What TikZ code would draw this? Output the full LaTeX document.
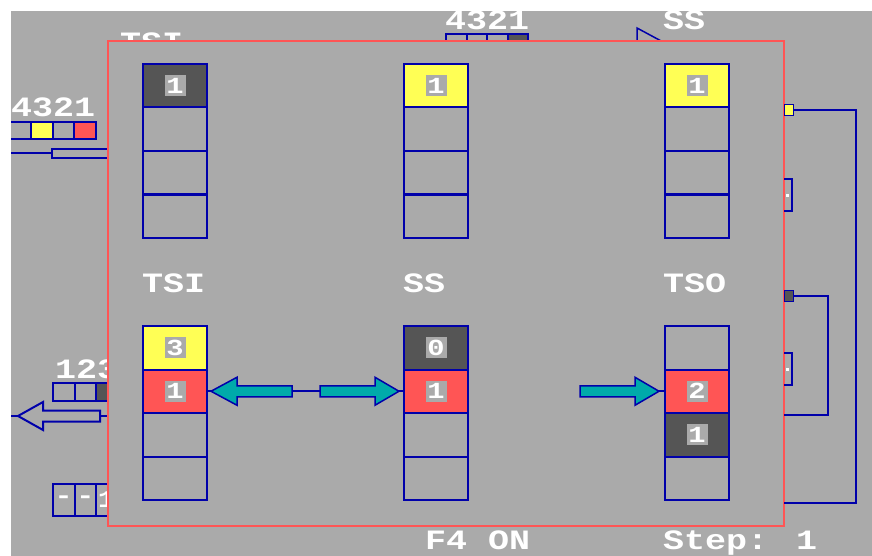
\documentclass[tikz,border=0pt]{standalone}
\usepackage{fontspec}
\newfontfamily\dosfont{Liberation Mono}[FakeStretch=1.25]
\usetikzlibrary{positioning}

\definecolor{dosgray}{HTML}{AAAAAA}
\definecolor{dosdark}{HTML}{555555}
\definecolor{dosblue}{HTML}{0000AA}
\definecolor{dosred}{HTML}{FF5555}
\definecolor{dosyellow}{HTML}{FFFF55}
\definecolor{doscyan}{HTML}{00AAAA}

\begin{document}
\begin{tikzpicture}[x=1pt,y=-1pt,
  slot/.style={draw=dosblue,line width=2pt,minimum width=64pt,minimum height=43.5pt,inner sep=0pt,outer sep=0pt},
  qslot/.style={draw=dosblue,line width=2pt,minimum width=21.5pt,minimum height=18pt,inner sep=0pt,outer sep=0pt,text=white,font=\dosfont\bfseries\fontsize{24}{24}\selectfont},
  num/.style={fill=dosgray,text=white,font=\dosfont\bfseries\fontsize{23}{23}\selectfont,minimum size=21pt,inner sep=0pt},
  scrtext/.style={text=white,font=\dosfont\bfseries\fontsize{28}{28}\selectfont,inner sep=0pt,anchor=base west},
  wire/.style={draw=dosblue,line width=2pt},
  fatarrow/.style={draw=dosblue,line width=1.5pt,fill=doscyan},
  plug/.style={draw=dosblue,line width=1.5pt,minimum width=9pt,minimum height=11pt,inner sep=0pt,outer sep=0pt}
]
\useasboundingbox (0,0) rectangle (872,556);
\fill[white] (0,0) rectangle (872,556);
\fill[dosgray] (11,11) rectangle (872,556);
\begin{scope}
\clip (11,11) rectangle (872,556);

% screen parts behind the window
\node[scrtext] (tsiTop) at (120,52) {TSI};
\node[scrtext] (queueTop) at (445,30) {4321};
\node[scrtext] (ssTop) at (663,30) {SS};
\node[qslot,minimum width=20.5pt,anchor=north west] (t1) at (446,34) {};
\node[qslot,minimum width=20.5pt,right=0pt of t1] (t2) {};
\node[qslot,minimum width=20.5pt,right=0pt of t2] (t3) {};
\node[qslot,minimum width=20.5pt,fill=dosdark,right=0pt of t3] (t4) {};
\draw[wire,line width=1.5pt] (637,56) -- (637,28) -- (663,42) -- cycle;

\node[scrtext] (queueIn) at (11,117) {4321};
\node[qslot,minimum height=17pt,anchor=north west] (i1) at (9.5,122) {};
\node[qslot,minimum height=17pt,fill=dosyellow,right=0pt of i1] (i2) {};
\node[qslot,minimum height=17pt,right=0pt of i2] (i3) {};
\node[qslot,minimum height=17pt,fill=dosred,right=0pt of i3] (i4) {};
\draw[wire] (11,153.5) -- (52,153.5);
\draw[wire] (120,149) -- (52,149) -- (52,158) -- (120,158);

\node[scrtext] (queueOut) at (55,378) {123};
\node[qslot,anchor=north west] (o1) at (53,383) {};
\node[qslot,right=0pt of o1] (o2) {};
\node[qslot,fill=dosdark,right=0pt of o2] (o3) {};
\draw[wire] (11,416) -- (18,416);
\draw[wire] (18,416) -- (43,402) -- (43,410.5) -- (100,410.5) -- (100,421.5) -- (43,421.5) -- (43,430) -- cycle;
\draw[wire] (100,416) -- (112,416);

\node[qslot,minimum height=32pt,anchor=north west] (d1) at (53,484) {-};
\node[qslot,minimum height=32pt,right=0pt of d1] (d2) {-};
\node[qslot,minimum height=32pt,right=0pt of d2] (d3) {1};

% window
\node[draw=dosred,fill=dosgray,line width=2.3pt,minimum width=676pt,minimum height=485pt,inner sep=0pt,outer sep=0pt,anchor=north west] (win) at (108,41) {};

% upper stacks
\node[slot,fill=dosdark,anchor=north] (tsiU1) at (175,64) {};
\node[slot,below=0pt of tsiU1] (tsiU2) {};
\node[slot,below=0pt of tsiU2] (tsiU3) {};
\node[slot,below=0pt of tsiU3] (tsiU4) {};
\node[slot,fill=dosyellow,anchor=north] (ssU1) at (436,64) {};
\node[slot,below=0pt of ssU1] (ssU2) {};
\node[slot,below=0pt of ssU2] (ssU3) {};
\node[slot,below=0pt of ssU3] (ssU4) {};
\node[slot,fill=dosyellow,anchor=north] (tsoU1) at (697,64) {};
\node[slot,below=0pt of tsoU1] (tsoU2) {};
\node[slot,below=0pt of tsoU2] (tsoU3) {};
\node[slot,below=0pt of tsoU3] (tsoU4) {};
\node[num] (tsiU1n) at (tsiU1) {1};
\node[num] (ssU1n) at (ssU1) {1};
\node[num] (tsoU1n) at (tsoU1) {1};

\node[scrtext] (tsiLbl) at (142,292) {TSI};
\node[scrtext] (ssLbl) at (403,292) {SS};
\node[scrtext] (tsoLbl) at (663,292) {TSO};

% lower stacks
\node[slot,fill=dosyellow,anchor=north] (tsiL1) at (175,326) {};
\node[slot,fill=dosred,below=0pt of tsiL1] (tsiL2) {};
\node[slot,below=0pt of tsiL2] (tsiL3) {};
\node[slot,below=0pt of tsiL3] (tsiL4) {};
\node[slot,fill=dosdark,anchor=north] (ssL1) at (436,326) {};
\node[slot,fill=dosred,below=0pt of ssL1] (ssL2) {};
\node[slot,below=0pt of ssL2] (ssL3) {};
\node[slot,below=0pt of ssL3] (ssL4) {};
\node[slot,anchor=north] (tsoL1) at (697,326) {};
\node[slot,fill=dosred,below=0pt of tsoL1] (tsoL2) {};
\node[slot,fill=dosdark,below=0pt of tsoL2] (tsoL3) {};
\node[slot,below=0pt of tsoL3] (tsoL4) {};
\node[num] (tsiL1n) at (tsiL1) {3};
\node[num] (tsiL2n) at (tsiL2) {1};
\node[num] (ssL1n) at (ssL1) {0};
\node[num] (ssL2n) at (ssL2) {1};
\node[num] (tsoL2n) at (tsoL2) {2};
\node[num] (tsoL3n) at (tsoL3) {1};

% transfer arrows
\draw[wire] (tsiL2.east) -- (ssL2.west);
\draw[fatarrow] ([xshift=4pt]tsiL2.east) -- ++(26,-14) -- ++(0,8.5) -- ++(55,0) -- ++(0,11) -- ++(-55,0) -- ++(0,8.5) -- cycle;
\draw[fatarrow] ([xshift=-5pt]ssL2.west) -- ++(-24,-14) -- ++(0,8.5) -- ++(-55,0) -- ++(0,11) -- ++(55,0) -- ++(0,8.5) -- cycle;
\coordinate (tsoFeed) at ([xshift=-85pt]tsoL2.west);
\draw[wire] (tsoFeed) -- (tsoL2.west);
\draw[fatarrow] ([xshift=-6pt]tsoL2.west) -- ++(-24,-14) -- ++(0,8.5) -- ++(-55,0) -- ++(0,11) -- ++(55,0) -- ++(0,8.5) -- cycle;

% loops on the right
\node[plug,fill=dosyellow] (plugY) at (789,110) {};
\node[plug,fill=dosdark] (plugD) at (789,296) {};
\draw[wire] (plugY.east) -- (856,110) |- (win.east |- 0,503);
\draw[wire] (plugD.east) -- (828,296) |- (win.east |- 0,415);
\draw[wire] (win.east |- 0,179) -| (792,211) -- (win.east |- 0,211);
\draw[wire] (win.east |- 0,353) -| (792,385) -- (win.east |- 0,385);
\fill[white] (786,194) rectangle (789,197);
\fill[white] (786,368) rectangle (789,371);

% status line
\node[scrtext] (keyTxt) at (425,549) {F4 ON};
\node[scrtext] (stepTxt) at (663,549) {Step: 1};
\end{scope}
\end{tikzpicture}
\end{document}
